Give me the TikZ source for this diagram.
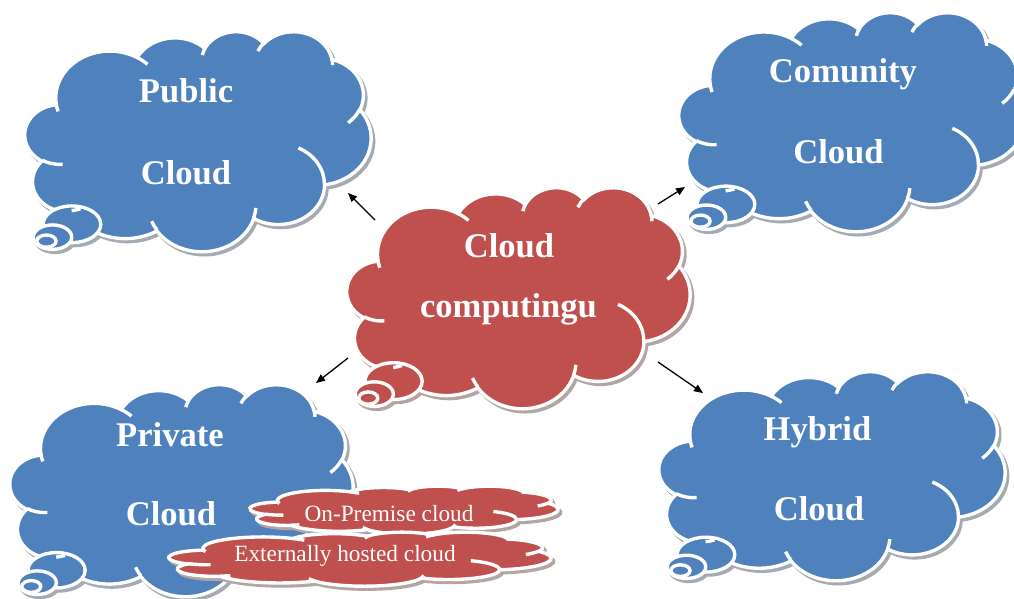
\documentclass[tikz,border=0pt]{standalone}
\usepackage{fontspec}
\setmainfont{Liberation Serif}
\usetikzlibrary{arrows.meta}

\definecolor{cloudblue}{RGB}{79,129,189}
\definecolor{cloudred}{RGB}{192,80,77}

% The cloud outline is a chain of elliptic arcs given by visual start angle
% and sweep (degrees); convert them to the parametric angles used by arc.
\newcommand\cloudarcangles[4]{%
  \pgfmathsetmacro\caS{atan2((#1)*sin(#3),(#2)*cos(#3))}%
  \pgfmathsetmacro\caE{atan2((#1)*sin((#3)+(#4)),(#2)*cos((#3)+(#4)))}%
  \pgfmathsetmacro\caD{mod(\caE-\caS+720,360)}%
}
\newcommand\cloudarc[4]{\pgfextra{\cloudarcangles{#1}{#2}{#3}{#4}}arc[start angle=\caS,delta angle=\caD,x radius=#1,y radius=#2]}

% outline of a cloud in a 43.2 x 43.2 frame (y pointing down)
\newcommand\cloudbody{(3.900,14.370)
  \cloudarc{6.753}{9.190}{-190.4875}{123.7805}
  \cloudarc{5.333}{7.267}{-144.1024}{89.9452}
  \cloudarc{4.365}{5.945}{-145.8079}{99.7230}
  \cloudarc{4.857}{6.595}{-130.9861}{117.2417}
  \cloudarc{5.333}{7.273}{-78.7089}{109.0269}
  \cloudarc{6.775}{9.220}{-46.2673}{130.2690}
  \cloudarc{5.785}{7.867}{0.6250}{114.0333}
  \cloudarc{6.752}{9.215}{22.4516}{115.1726}
  \cloudarc{7.720}{10.543}{66.2426}{75.7110}
  \cloudarc{4.360}{5.918}{-274.9421}{146.7356}
  \cloudarc{4.345}{5.945}{-246.8285}{152.5189}
  -- cycle}

% the short inner strokes between the puffs
\newcommand\cloudfolds{
  (4.693,26.177) \cloudarc{4.345}{5.945}{86.7420}{26.4295}
  (6.928,34.899) \cloudarc{4.360}{5.918}{73.6105}{11.4475}
  (16.478,39.090) \cloudarc{6.752}{9.215}{137.6242}{14.0811}
  (28.827,34.751) \cloudarc{6.752}{9.215}{6.4533}{15.9984}
  (34.129,22.954) \cloudarc{5.785}{7.867}{-70.2924}{70.9174}
  (41.798,15.354) \cloudarc{5.333}{7.273}{30.3180}{27.7515}
  (38.324,5.426) \cloudarc{4.857}{6.595}{-13.7443}{14.8589}
  (29.078,3.952) \cloudarc{4.857}{6.595}{-149.1815}{18.1954}
  (22.141,4.720) \cloudarc{4.365}{5.945}{-163.4943}{17.6864}
  (14.000,5.192) \cloudarc{6.753}{9.190}{-66.7070}{12.3194}
  (4.127,15.789) \cloudarc{6.753}{9.190}{157.6544}{11.8582}}

\newcommand\bubbleL{(5.862,37.951) ellipse[x radius=3.6,y radius=3.6]}
\newcommand\bubbleM{(3.434,40.478) ellipse[x radius=2.4,y radius=2.4]}
\newcommand\bubbleS{(2.678,41.256) ellipse[x radius=1.2,y radius=1.2]}

\tikzset{
  cloudface/.style={fill=#1,draw=white,line width=3.4pt},
  cloudshadow/.style={fill=#1!35!black!40,draw=#1!35!black!40,line width=3.4pt},
  cloudfold/.style={draw=white,line width=3.4pt},
  biglabel/.style={font=\fontsize{34.6}{40}\selectfont\bfseries,text=white,anchor=base,inner sep=0pt},
  smalllabel/.style={font=\fontsize{23.3}{28}\selectfont,text=white,anchor=base,inner sep=0pt},
  link/.style={draw=black,line width=1.3pt,-{Triangle[length=9pt,width=7.5pt]}},
}

% #1 x, #2 y, #3 width, #4 height, #5 colour, #6 = 1 for thought bubbles
\newcommand\drawcloud[6]{%
  \pgfmathsetmacro\cfx{#3/43.2}%
  \pgfmathsetmacro\cfy{#4/43.2}%
  \begin{scope}[shift={(#1+2.5,#2+3)},x=\cfx pt,y=-\cfy pt]
    \path[cloudshadow=#5] \cloudbody;
    \ifnum#6=1\relax
      \path[cloudshadow=#5] \bubbleL;
      \path[cloudshadow=#5] \bubbleM;
      \path[cloudshadow=#5] \bubbleS;
    \fi
  \end{scope}
  \begin{scope}[shift={(#1,#2)},x=\cfx pt,y=-\cfy pt]
    \path[cloudface=#5] \cloudbody;
    \ifnum#6=1\relax
      \path[cloudface=#5] \bubbleL;
      \path[cloudface=#5] \bubbleM;
      \path[cloudface=#5] \bubbleS;
    \fi
    \path[cloudfold] \cloudfolds;
  \end{scope}
}

\begin{document}
\begin{tikzpicture}[x=1pt,y=-1pt]
  \useasboundingbox (0,0) rectangle (1014,598);
  \fill[white] (0,0) rectangle (1014,598);

  % public cloud
  \drawcloud{25}{31}{346}{220}{cloudblue}{1}
  \node[biglabel] (pubA) at (186,102.7) {Public};
  \node[biglabel] (pubB) at (186,184) {Cloud};

  % community cloud
  \drawcloud{679}{12}{346}{219}{cloudblue}{1}
  \node[biglabel] (comA) at (843,82.7) {Comunity};
  \node[biglabel] (comB) at (838.5,163.3) {Cloud};

  % central cloud
  \drawcloud{347}{187}{343}{221}{cloudred}{1}
  \node[biglabel] (ccA) at (509,257.3) {Cloud};
  \node[biglabel] (ccB) at (508.5,317.7) {computingu};

  % private cloud
  \drawcloud{10}{384}{343}{212}{cloudblue}{1}
  \node[biglabel] (priA) at (170,446) {Private};
  \node[biglabel] (priB) at (171,525.7) {Cloud};

  % hybrid cloud
  \drawcloud{659}{371}{346}{209}{cloudblue}{1}
  \node[biglabel] (hybA) at (817.5,440) {Hybrid};
  \node[biglabel] (hybB) at (819,520) {Cloud};

  % kinds of private cloud
  \drawcloud{250}{486}{308}{48}{cloudred}{0}
  \node[smalllabel] (onprem) at (389,521.7) {On-Premise cloud};
  \drawcloud{169}{532}{382}{54}{cloudred}{0}
  \node[smalllabel] (exthost) at (345,561.7) {Externally hosted cloud};

  % arrows from the central cloud
  \coordinate (toPubS) at (375,220);  \coordinate (toPubE) at (348,193);
  \coordinate (toComS) at (658,204);  \coordinate (toComE) at (685,187);
  \coordinate (toPriS) at (348,358);  \coordinate (toPriE) at (316,383);
  \coordinate (toHybS) at (658,362);  \coordinate (toHybE) at (703,393);
  \draw[link] (toPubS) -- (toPubE);
  \draw[link] (toComS) -- (toComE);
  \draw[link] (toPriS) -- (toPriE);
  \draw[link] (toHybS) -- (toHybE);
\end{tikzpicture}
\end{document}
